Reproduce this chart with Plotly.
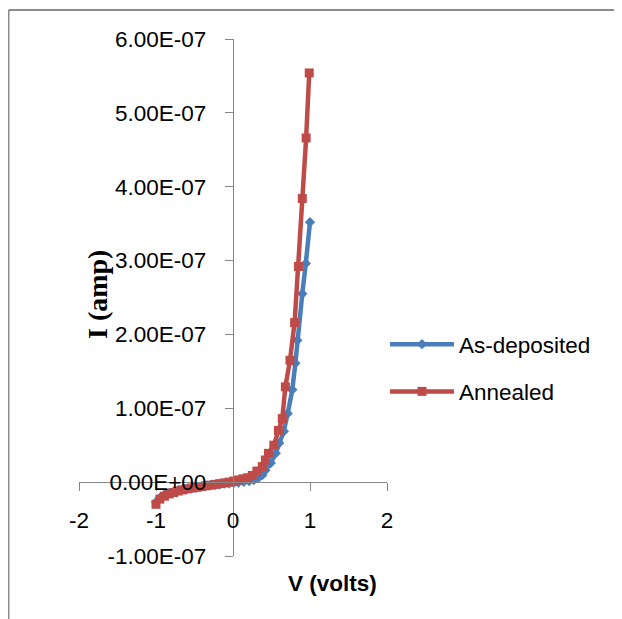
import plotly.graph_objects as go

# ---------------- data ----------------
v_asdep = [-1.00, -0.95, -0.89, -0.83, -0.77, -0.71, -0.65, -0.59, -0.53, -0.47,
           -0.41, -0.35, -0.29, -0.23, -0.17, -0.11, -0.05, 0.01, 0.07, 0.14,
           0.21, 0.27, 0.33, 0.38, 0.42, 0.49, 0.555, 0.60, 0.66, 0.71,
           0.77, 0.81, 0.835, 0.90, 0.945, 1.00]
i_asdep = [-2.7e-08, -2.1e-08, -1.7e-08, -1.45e-08, -1.25e-08, -1.1e-08, -9.5e-09, -8.5e-09, -7.5e-09, -6.5e-09,
           -5.5e-09, -5.0e-09, -4.0e-09, -3.5e-09, -3.0e-09, -2.0e-09, -1.5e-09, -1.0e-09, -5.0e-10, 5.0e-10,
           1.5e-09, 3.0e-09, 6.0e-09, 9.5e-09, 1.6e-08, 2.6e-08, 3.9e-08, 5.3e-08, 6.9e-08, 9.3e-08,
           1.25e-07, 1.61e-07, 1.92e-07, 2.55e-07, 2.96e-07, 3.52e-07]

v_anneal = [-1.00, -0.95, -0.89, -0.83, -0.77, -0.71, -0.65, -0.59, -0.53, -0.47,
            -0.41, -0.35, -0.29, -0.23, -0.17, -0.11, -0.05, 0.01, 0.07, 0.13,
            0.19, 0.25, 0.31, 0.38, 0.42, 0.46, 0.53, 0.59, 0.64, 0.68,
            0.74, 0.80, 0.85, 0.90, 0.95, 0.99]
i_anneal = [-3.0e-08, -2.3e-08, -1.9e-08, -1.6e-08, -1.4e-08, -1.2e-08, -1.05e-08, -9.0e-09, -8.0e-09, -7.0e-09,
            -6.0e-09, -5.0e-09, -4.0e-09, -3.0e-09, -2.0e-09, -1.0e-09, 0.0, 1.5e-09, 3.0e-09, 4.5e-09,
            6.0e-09, 9.0e-09, 1.5e-08, 2.1e-08, 3.0e-08, 3.9e-08, 5.0e-08, 7.0e-08, 8.6e-08, 1.29e-07,
            1.65e-07, 2.16e-07, 2.92e-07, 3.84e-07, 4.66e-07, 5.54e-07]

x_tick_vals = [-2, -1, 0, 1, 2]
x_tick_text = ["-2", "-1", "0", "1", "2"]
y_tick_vals = [-1e-07, 0, 1e-07, 2e-07, 3e-07, 4e-07, 5e-07, 6e-07]
y_tick_text = ["-1.00E-07", "0.00E+00", "1.00E-07", "2.00E-07", "3.00E-07",
               "4.00E-07", "5.00E-07", "6.00E-07"]

series_names = ["As-deposited", "Annealed"]
x_title = "V (volts)"
y_title = "I (amp)"

# ---------------- layout geometry ----------------
W, H = 622, 619
OFF = 8                      # page offset of the plot div (body margin)
ML, MT = 79 - OFF, 39 - OFF
PW, PH = 308, 517
MR, MB = W - ML - PW, H - MT - PH
X_RANGE = [-2, 2]
Y_RANGE = [-1e-07, 6e-07]


def px_x(px):
    """page pixel x -> paper fraction"""
    return (px - OFF - ML) / PW


def px_y(py):
    """page pixel y -> paper fraction"""
    return (H - MB - (py - OFF)) / PH


BLUE = "#4A7EBB"
RED = "#BE4B48"
AXIS = "#868686"
SANS = "Liberation Sans, Arial, sans-serif"
FS = 22.5

fig = go.Figure()
fig.add_trace(go.Scatter(
    x=v_asdep, y=i_asdep, name=series_names[0], mode="lines+markers",
    line=dict(color=BLUE, width=4.5),
    marker=dict(symbol="diamond", size=8, color=BLUE),
    legendgroup="a",
))
fig.add_trace(go.Scatter(
    x=v_anneal, y=i_anneal, name=series_names[1], mode="lines+markers",
    line=dict(color=RED, width=4.5),
    marker=dict(symbol="square", size=9, color=RED),
    legendgroup="b",
))

# position of the crossing axes (x axis sits at I = 0, y axis at V = 0)
x_axis_pos = (0 - Y_RANGE[0]) / (Y_RANGE[1] - Y_RANGE[0])
y_axis_pos = (0 - X_RANGE[0]) / (X_RANGE[1] - X_RANGE[0])

fig.update_layout(
    width=W, height=H,
    margin=dict(l=ML, r=MR, t=MT, b=MB, autoexpand=False),
    paper_bgcolor="white", plot_bgcolor="white",
    font=dict(family=SANS, size=FS, color="black"),
    showlegend=True,
    legend=dict(
        x=px_x(385), y=px_y(323), xanchor="left", yanchor="top",
        font=dict(family=SANS, size=FS, color="black"),
        bgcolor="rgba(0,0,0,0)", tracegroupgap=15, itemwidth=64,
    ),
    xaxis=dict(
        range=X_RANGE, anchor="free", position=x_axis_pos,
        showline=True, linecolor=AXIS, linewidth=1.3,
        showgrid=False, zeroline=False,
        ticks="outside", ticklen=8, tickcolor=AXIS, tickwidth=1.3,
        tickvals=x_tick_vals, ticktext=x_tick_text,
        ticklabelstandoff=10,
        tickfont=dict(family=SANS, size=FS, color="black"),
        fixedrange=True,
    ),
    yaxis=dict(
        range=Y_RANGE, anchor="free", position=y_axis_pos,
        showline=True, linecolor=AXIS, linewidth=1.3,
        showgrid=False, zeroline=False,
        ticks="outside", ticklen=8, tickcolor=AXIS, tickwidth=1.3,
        tickvals=y_tick_vals, ticktext=y_tick_text,
        ticklabelstandoff=14,
        tickfont=dict(family=SANS, size=FS, color="black"),
        fixedrange=True,
    ),
    annotations=[
        dict(text=y_title, xref="paper", yref="paper", x=px_x(97), y=px_y(295),
             textangle=-90, showarrow=False, xanchor="center", yanchor="middle",
             font=dict(family="Liberation Serif, Times New Roman, serif", size=28,
                       color="black", weight="bold")),
        dict(text=x_title, xref="paper", yref="paper", x=px_x(332), y=px_y(583),
             showarrow=False, xanchor="center", yanchor="middle",
             font=dict(family=SANS, size=22.5, color="black", weight="bold")),
    ],
    shapes=[
        dict(type="line", xref="paper", yref="paper",
             x0=px_x(8.5), y0=px_y(10), x1=px_x(640), y1=px_y(10),
             line=dict(color="#8c8c8c", width=2)),
        dict(type="line", xref="paper", yref="paper",
             x0=px_x(8.5), y0=px_y(10), x1=px_x(8.5), y1=px_y(640),
             line=dict(color="#8c8c8c", width=2)),
    ],
)

fig.write_html("out.html")
